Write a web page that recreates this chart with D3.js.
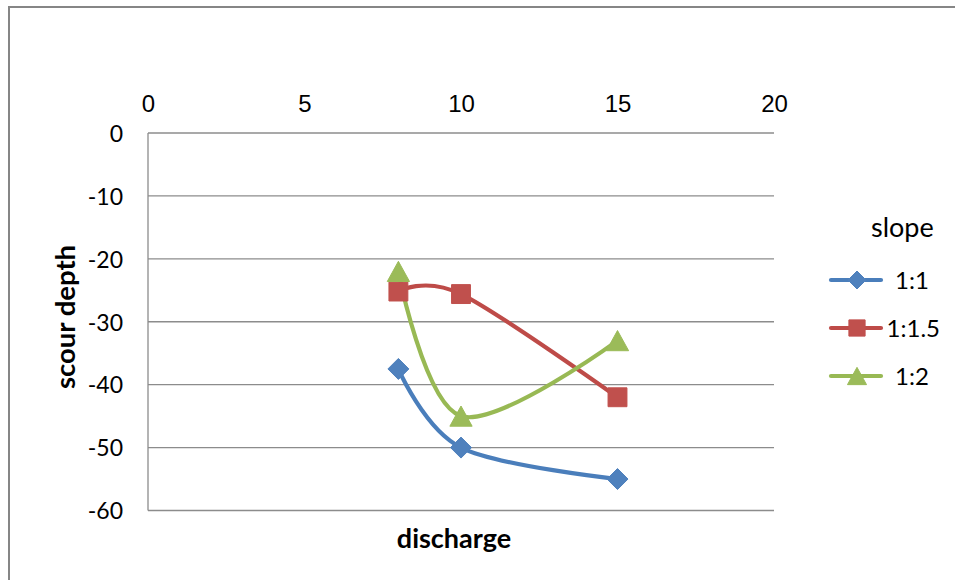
<!DOCTYPE html>
<html><head><meta charset="utf-8">
<script src="https://cdn.jsdelivr.net/npm/d3@7"></script>
<style>
html,body{margin:0;padding:0;background:#fff;}
svg{display:block;}
</style>
</head><body>
<svg id="chart" width="955" height="580"></svg>
<script>
// ---- data ----
const discharge = [8, 10, 15];
const slopeNames = ["1:1", "1:1.5", "1:2"];
const depth11 = [-37.5, -50, -55];
const depth115 = [-25.2, -25.6, -42];
const depth12 = [-22, -45, -33];
const xTicks = [0, 5, 10, 15, 20];
const yTicks = [0, -10, -20, -30, -40, -50, -60];
const lineColors = ["#4A7EBB", "#BE4B48", "#98B954"];
const markerColors = ["#4F81BD", "#C0504D", "#9BBB59"];
const markerShapes = ["diamond", "square", "triangle"];
const xTitle = "discharge";
const yTitle = "scour depth";
const legendTitle = "slope";

const seriesValues = [depth11, depth115, depth12];
const series = slopeNames.map((name, i) => ({
  name, values: discharge.map((d, j) => ({x: d, y: seriesValues[i][j]})),
  line: lineColors[i], marker: markerColors[i], shape: markerShapes[i]
}));

const svg = d3.select("#chart");
const L = 148, R = 774, T = 133, B = 510.5;
const x = d3.scaleLinear().domain([0, 20]).range([L, R]);
const y = d3.scaleLinear().domain([0, -60]).range([T, B]);
const fmt = d => String(d);

// outer chart frame
svg.append("rect").attr("x", 9).attr("y", 7).attr("width", 1000).attr("height", 1000)
  .attr("fill", "none").attr("stroke", "#868686").attr("stroke-width", 2);

// gridlines
svg.append("g").selectAll("line").data(yTicks).join("line")
  .attr("x1", L).attr("x2", R).attr("y1", d => y(d)).attr("y2", d => y(d))
  .attr("stroke", "#8c8c8c").attr("stroke-width", 1.3);
// left axis line
svg.append("line").attr("x1", L).attr("x2", L).attr("y1", T).attr("y2", B)
  .attr("stroke", "#8c8c8c").attr("stroke-width", 1.3);

// top axis
const gx = svg.append("g").attr("transform", `translate(0,${T})`)
  .call(d3.axisTop(x).tickValues(xTicks).tickSize(0).tickPadding(21).tickFormat(fmt));
gx.select(".domain").remove();
gx.selectAll("text").attr("font-family", "'Liberation Sans', Arial, sans-serif")
  .attr("font-size", 24).attr("fill", "#000");

// left axis
const gy = svg.append("g").attr("transform", `translate(${L},0)`)
  .call(d3.axisLeft(y).tickValues(yTicks).tickSize(0).tickPadding(25).tickFormat(fmt));
gy.select(".domain").remove();
gy.selectAll("text").attr("font-family", "Lato, sans-serif")
  .attr("font-size", 23).attr("fill", "#000").attr("dy", "0.36em");

// axis titles
svg.append("text").attr("x", 454).attr("y", 548).attr("text-anchor", "middle")
  .attr("font-family", "Lato, sans-serif").attr("font-weight", "bold").attr("font-size", 27)
  .text(xTitle);
svg.append("text").attr("transform", "translate(75,317) rotate(-90)").attr("text-anchor", "middle")
  .attr("font-family", "Lato, sans-serif").attr("font-weight", "bold").attr("font-size", 27.5)
  .text(yTitle);

function markerPath(shape, s) {
  if (shape === "diamond") { const r = s / 2; return `M0,${-r}L${r},0L0,${r}L${-r},0Z`; }
  if (shape === "square") { const r = s * 0.45; return `M${-r},${-r}H${r}V${r}H${-r}Z`; }
  const w = s * 0.53, h = s * 0.48;
  return `M0,${-h}L${w},${h}L${-w},${h}Z`;
}

// lines
const line = d3.line().x(d => x(d.x)).y(d => y(d.y)).curve(d3.curveCardinal.tension(0));
const gs = svg.append("g");
series.forEach(s => {
  gs.append("path").attr("d", line(s.values)).attr("fill", "none")
    .attr("stroke", s.line).attr("stroke-width", 4.2).attr("stroke-linecap", "round");
});
series.forEach(s => {
  gs.append("g").selectAll("path").data(s.values).join("path")
    .attr("transform", d => `translate(${x(d.x)},${y(d.y)})`)
    .attr("d", markerPath(s.shape, 21)).attr("fill", s.marker).attr("stroke", s.marker).attr("stroke-width", 1);
});

// legend
const lg = svg.append("g");
lg.append("text").attr("x", 871).attr("y", 237).attr("font-family", "Lato, sans-serif")
  .attr("font-size", 27).attr("fill", "#000").text(legendTitle);
const rowY = d3.scalePoint().domain(slopeNames).range([280, 376]);
series.forEach(s => {
  const cy = rowY(s.name);
  lg.append("line").attr("x1", 831).attr("x2", 881).attr("y1", cy).attr("y2", cy)
    .attr("stroke", s.line).attr("stroke-width", 4.2).attr("stroke-linecap", "round");
  lg.append("path").attr("transform", `translate(857,${cy})`).attr("d", markerPath(s.shape, 18))
    .attr("fill", s.marker).attr("stroke", s.marker);
  const t = lg.append("text").attr("x", 895).attr("y", cy + 8.5).attr("font-family", "Lato, sans-serif")
    .attr("font-size", 24).attr("fill", "#000").text(s.name);
  const w = t.node().getComputedTextLength();
  if (895 + w > 940) t.attr("x", 940 - w);
});
</script>
</body></html>
